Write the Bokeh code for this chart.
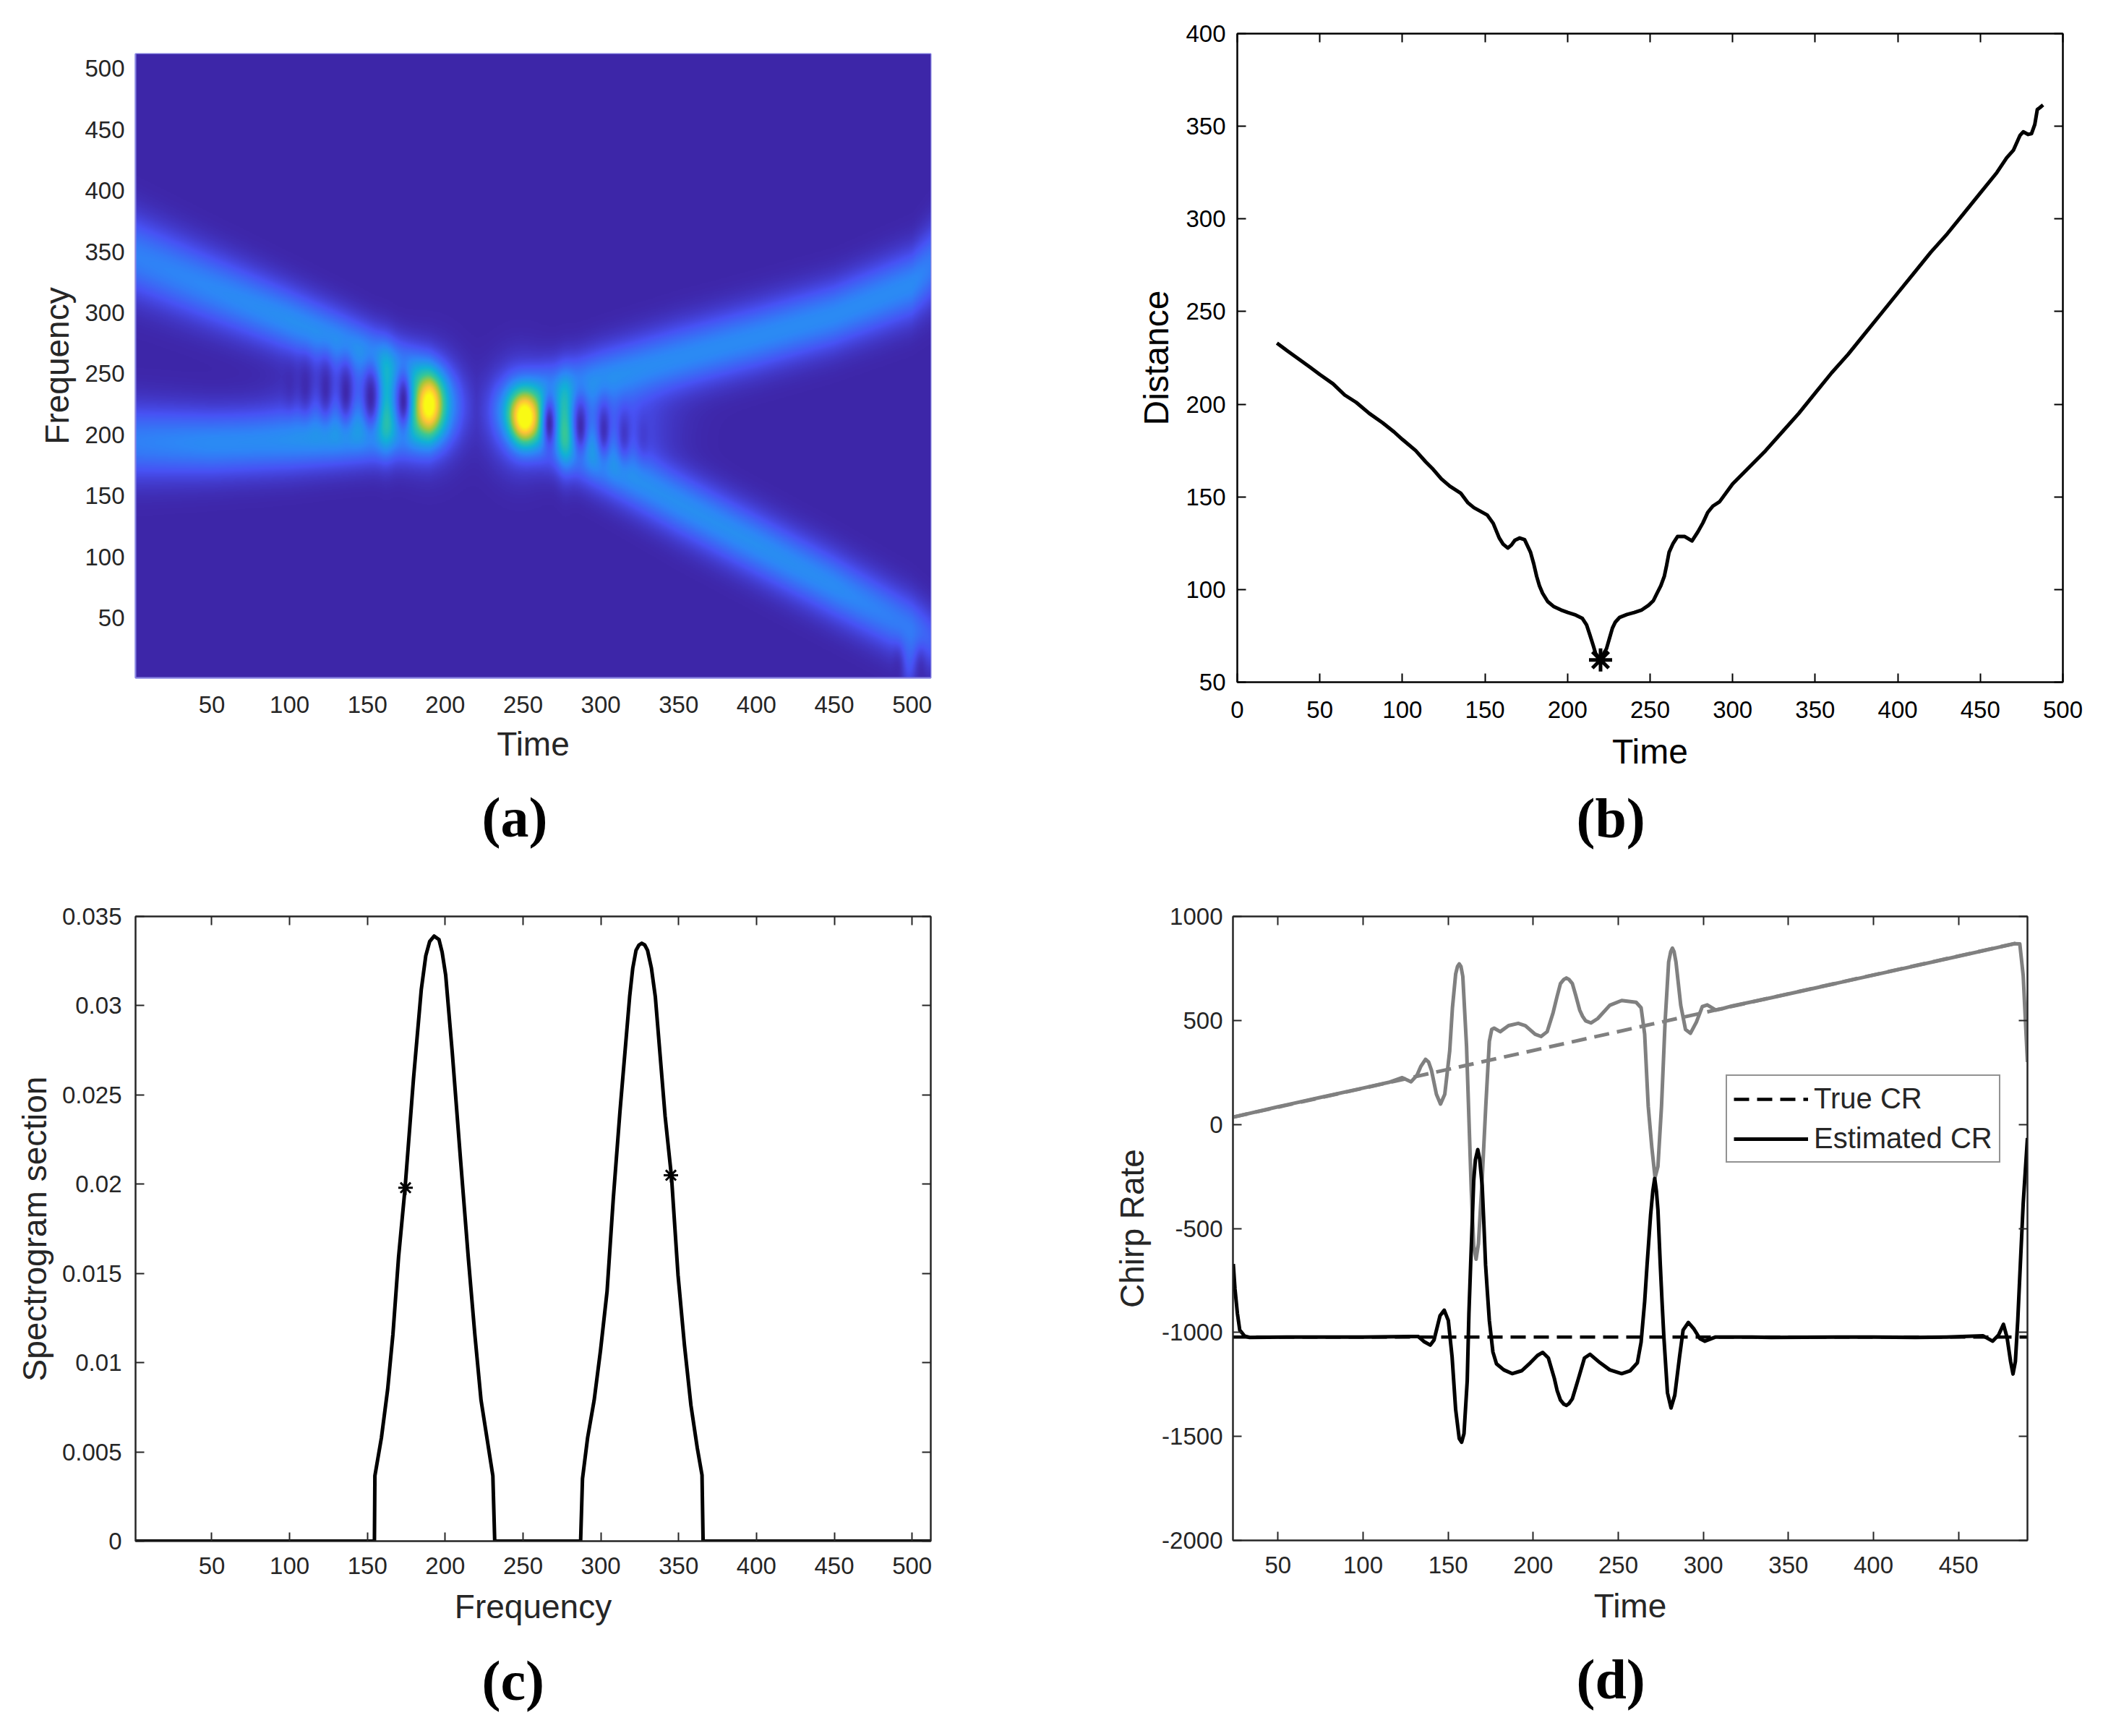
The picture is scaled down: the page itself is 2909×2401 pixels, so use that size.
import numpy as np
from bokeh.plotting import figure
from bokeh.layouts import column, row
from bokeh.models import LinearAxis, FixedTicker, Title, LinearColorMapper, Legend, LegendItem
from bokeh.embed import file_html
from bokeh.resources import INLINE

# ---------------- tick labels ----------------
ticks_512 = [50, 100, 150, 200, 250, 300, 350, 400, 450, 500]
b_x_ticks = [0, 50, 100, 150, 200, 250, 300, 350, 400, 450, 500]
b_y_ticks = [50, 100, 150, 200, 250, 300, 350, 400]
c_y_ticks = [0, 0.005, 0.01, 0.015, 0.02, 0.025, 0.03, 0.035]
c_y_labels = ["0", "0.005", "0.01", "0.015", "0.02", "0.025", "0.03", "0.035"]
d_x_ticks = [50, 100, 150, 200, 250, 300, 350, 400, 450]
d_y_ticks = [-2000, -1500, -1000, -500, 0, 500, 1000]

# ---------------- panel (a): ridges (time, frequency, level, width) ----------------
ul_t = [1, 50, 100, 130, 160, 190, 198, 205, 212, 220]
ul_f = [346, 320, 294, 278, 261, 245, 241, 237, 233, 229]
ul_a = [0.27, 0.29, 0.31, 0.31, 0.31, 0.25, 0.16, 0.08, 0.03, 0.0]
ul_w = [23, 21, 19, 18, 17, 16, 15, 15, 15, 15]
ll_t = [1, 50, 100, 130, 160, 190, 198, 205, 212, 220]
ll_f = [194, 193, 195, 197, 201, 206, 209, 212, 214, 216]
ll_a = [0.27, 0.30, 0.30, 0.30, 0.30, 0.25, 0.16, 0.08, 0.03, 0.0]
ll_w = [21, 19, 18, 17, 17, 17, 16, 16, 16, 16]
ur_t = [220, 228, 236, 243, 252, 265, 300, 350, 400, 450, 500, 512]
ur_f = [218, 220, 222, 224, 227, 233, 246, 263, 280, 298, 323, 338]
ur_a = [0.0, 0.02, 0.06, 0.12, 0.18, 0.28, 0.30, 0.30, 0.30, 0.30, 0.30, 0.26]
ur_w = [16, 16, 16, 17, 17, 17, 18, 19, 19, 19, 20, 22]
lr_t = [220, 228, 236, 243, 252, 265, 300, 350, 400, 450, 500, 512]
lr_f = [230, 225, 220, 216, 210, 201, 178, 144, 110, 76, 41, 33]
lr_a = [0.0, 0.02, 0.06, 0.12, 0.18, 0.28, 0.30, 0.31, 0.31, 0.30, 0.25, 0.18]
lr_w = [17, 17, 17, 17, 17, 17, 18, 19, 19, 19, 19, 18]
# bright lobes: time, frequency, level, half-width in time, half-width in frequency
bright_t = [140, 305, 162, 191, 189.5, 248, 250.7, 277, 498]
bright_f = [226, 206, 226, 222, 225, 216, 213, 208, 8]
bright_a = [0.15, 0.15, 0.20, 0.28, 0.52, 0.28, 0.52, 0.20, 0.10]
bright_st = [26, 26, 3.5, 13, 6, 13, 6, 3.5, 3.5]
bright_sf = [20, 20, 26, 27, 15, 27, 15, 26, 14]
# dark fringes: time, frequency, depth, half-width in time, half-width in frequency
dark_t = [100, 110, 123, 136, 152, 173, 267, 287, 302, 315, 327, 491, 506]
dark_f = [240, 240, 238, 235, 231, 228, 209, 207, 204, 200, 198, 8, 8]
dark_d = [0.5, 0.8, 0.88, 0.95, 0.98, 0.98, 0.98, 0.95, 0.88, 0.7, 0.4, 0.6, 0.6]
dark_st = [3, 3.2, 3.2, 3.4, 3.6, 3.4, 3.4, 3.4, 3.2, 3.2, 3, 2.5, 2.5]
dark_sf = [13, 15, 17, 18, 18, 18, 18, 18, 17, 15, 13, 12, 12]

# parula colour stops
parula_r = [0.2422, 0.2810, 0.1786, 0.0689, 0.2161, 0.6720, 0.9970, 0.9769]
parula_g = [0.1504, 0.3228, 0.5289, 0.6948, 0.7843, 0.7793, 0.7659, 0.9839]
parula_b = [0.6603, 0.9579, 0.9682, 0.8394, 0.5923, 0.2227, 0.2199, 0.0805]

# ---------------- panel (b) ----------------
b_time = [24, 30, 37, 44, 50, 58, 65, 72, 80, 88, 95, 100, 108, 114, 118.5, 123.6, 128.7, 135.3, 139.7, 143.3,
          151.4, 155, 158.6, 161, 163.8, 166, 168.1, 171, 174, 177.6, 179.5, 181.3, 183, 184.9, 188, 191.5, 196, 200.2, 205, 209, 211.5, 213.4,
          215.5, 217, 219.9,
          223.6, 225.5, 227.2, 229, 231.6, 236, 240.4, 245, 249.1, 252, 254.2, 256.5, 258.6, 260, 261.5, 264, 266.6, 271, 275.4, 279, 282, 284.9, 288, 292.1,
          300, 310, 320, 330, 340, 350, 360, 370, 380, 390, 400, 410, 420, 430, 440, 450, 460, 466, 470,
          474, 476, 479, 481, 483, 484.5, 486, 488]
b_dist = [233, 229, 224.5, 220, 216, 211, 205, 201, 195, 190, 185, 181, 175, 169, 165, 159.7, 155.8, 152, 146.8, 144.2,
          140.2, 135.7, 127.9, 124.5, 122.4, 124, 126.6, 127.8, 126.9, 120.1, 114, 107.1, 102, 98, 93.5, 90.9, 89, 87.6, 86.2, 84.4, 81, 75.9,
          70, 65.5, 62.3,
          68.1, 74, 79.2, 82.5, 85, 86.5, 87.6, 89, 91.5, 94, 98, 102, 107.1, 113, 120.1, 125, 128.6, 128.6, 126.2, 131.2, 136, 141.6, 145, 147.4,
          157, 166, 175, 185, 195, 206, 217, 227, 238, 249, 260, 271, 282, 292, 303, 314, 325, 333, 337,
          345, 347, 345.6, 346, 351, 359, 360, 361.5]
b_star_t = [220]
b_star_d = [62]

# ---------------- panel (c) ----------------
c_freq = [1, 154.5, 154.8, 159, 163, 166.4, 170, 174.2, 179.6, 184.6, 187.5, 190, 192.9, 196, 198, 200.3, 204.5, 209.9,
          214.8, 219, 223, 227.3, 230.6, 231.8, 287, 288.2, 291.5, 295.7, 299.8, 304, 308, 312.3, 318.5, 320.5, 322.6, 324.5, 326.3,
          328.2, 330, 332.5, 335, 341.3, 345.4, 349.6, 353.7, 357.9, 362, 365, 365.7, 512]
c_spec = [0, 0, 0.00366, 0.0058, 0.0085, 0.0116, 0.0159, 0.0198, 0.0259, 0.0309, 0.0328, 0.0336, 0.0339, 0.0337, 0.0330, 0.0317, 0.0274, 0.0213,
          0.0159, 0.0116, 0.0079, 0.0055, 0.00366, 0, 0, 0.0035, 0.0058, 0.0079, 0.0107, 0.014, 0.0192, 0.0241, 0.0305, 0.0321, 0.0331, 0.0334, 0.0335,
          0.0334, 0.0331, 0.0321, 0.0305, 0.0238, 0.0204, 0.0149, 0.011, 0.0076, 0.0052, 0.0037, 0, 0]
c_star_f = [174.5, 345]
c_star_s = [0.0198, 0.0205]

# ---------------- panel (d) ----------------
true_t = [23.5, 486]
true_gray = [35, 875]
true_black_t = [23.5, 490.5]
true_black = [-1022, -1022]
gray_t = [23.5, 50, 75, 100, 115, 123, 128.2, 131.7, 134, 136.7, 138.5, 140.2, 143.1, 145.5, 148, 150.9, 152.5, 154.4, 155.5, 156.5, 157.5, 158.6, 160.8, 162.2,
          163.6, 165, 166.4, 167.8, 170, 172.1, 174.2, 175.6, 177, 180.6, 185.5, 191.2, 195.4, 201.1, 204.6, 208.2, 211.7,
          214, 216, 218, 219.5, 221, 223, 225, 227.3, 229, 230.8, 233.9, 237.9, 245, 252, 260.5, 263.4, 265.5, 267.6, 269.7, 271.6, 273.3, 275.4,
          277.5, 279.6, 280.8, 281.8, 282.8, 283.9, 286.7, 289.5, 292.4, 295.9, 299.4, 302.3, 307.2, 310.8, 317.1, 339.8, 400, 450, 483, 486, 488, 490.5]
gray_cr = [35, 85, 130, 175, 202, 225, 205, 237, 280, 313, 300, 260, 145, 98, 145, 353, 560, 723, 760, 772, 760, 712, 376, 29,
           -318, -584, -648, -573, -260, 87, 399, 457, 463, 446, 475, 486, 475, 434, 423, 446, 538,
           615, 677, 697, 704, 697, 677, 620, 550, 520, 498, 488, 509, 573, 596, 587, 561, 434, 87, -110, -255, -202, 87,
           492, 781, 830, 848, 830, 781, 573, 457, 438, 492, 567, 575, 550, 556, 570, 609, 718, 809, 869, 868, 716, 300]
black_t = [23.7, 24.7, 26.1, 27.5, 30.4, 33.3, 60, 100, 127.5, 132.5, 136, 139.5, 141.7, 145.2, 147.7, 150.1, 152.3, 154.4, 156.5, 157.9, 159.3,
           161.2, 162.2, 163.2, 164, 165, 166, 167.4, 168.5, 170, 171, 172, 173, 174.2, 176.3, 178.4, 182.7, 187.6, 193.3, 198.3, 202.5, 205.6, 208.9,
           212.4, 214, 216, 218, 219.5, 221, 223, 225, 226.6, 230.1, 233.4, 239.3, 245, 252, 257, 261.2, 263.4, 265.5, 266.9, 269, 270.3, 271.4, 272.4, 273.3,
           274.7, 275.7, 276.8, 278.9, 281, 283.2, 286, 288.1, 291.2, 294.5, 298, 300.9, 307.2, 317.1, 328.5, 339.8, 400, 424.7, 443, 464.3, 470,
           473.5, 476.4, 478.5, 480.6, 482, 483.4, 484.8, 486.3, 488, 490.5]
black_cr = [-671, -792, -908, -989, -1018, -1024, -1022, -1022, -1020, -1020, -1045, -1061, -1036, -920, -893, -943, -1117, -1371, -1510, -1528, -1487,
            -1233, -908, -677, -500, -272, -170, -121, -165, -295, -480, -677, -800, -943, -1094, -1151, -1180, -1198, -1184, -1146, -1111, -1096, -1123,
            -1221, -1278, -1325, -1345, -1351, -1342, -1319, -1265, -1221, -1123, -1105, -1146, -1180, -1198, -1184, -1146, -1047, -851, -677, -434, -320, -260, -320, -411,
            -677, -850, -1024, -1290, -1363, -1302, -1117, -989, -952, -984, -1030, -1042, -1022, -1022, -1022, -1024, -1022, -1024, -1022, -1016, -1042,
            -1013, -961, -1024, -1140, -1200, -1140, -943, -677, -380, -65]

TXT = "#262626"
FONT = "Liberation Sans"

def axis_style(ax, tick_color=TXT, tick_size="33px", label_size="46px", tick_len=12, standoff=10, label_standoff=10, line=True):
    ax.major_label_text_font = FONT
    ax.major_label_text_font_size = tick_size
    ax.major_label_text_color = tick_color
    ax.axis_label_text_font = FONT
    ax.axis_label_text_font_size = label_size
    ax.axis_label_text_font_style = "normal"
    ax.axis_label_text_color = tick_color
    ax.major_tick_in = tick_len
    ax.major_tick_out = 0
    ax.minor_tick_line_color = None
    ax.major_tick_line_color = tick_color if tick_len else None
    ax.major_tick_line_width = 2
    ax.axis_line_color = tick_color if line else None
    ax.axis_line_width = 2
    ax.major_label_standoff = standoff
    ax.axis_label_standoff = label_standoff

def make(width, height, bl, br, bt, bb, xr, yr, xt, yt, xlabel, ylabel, color=TXT, ov=None, tick_len=12,
         xs=10, ys=10, xls=10, yls=10, tick_size="33px", label_size="46px"):
    p = figure(width=width, height=height, min_border_left=bl, min_border_right=br, min_border_top=bt,
               min_border_bottom=bb, x_range=xr, y_range=yr, output_backend="svg", toolbar_location=None,
               x_axis_label=xlabel, y_axis_label=ylabel)
    p.grid.visible = False
    p.xaxis.ticker = FixedTicker(ticks=xt)
    p.yaxis.ticker = FixedTicker(ticks=yt)
    axis_style(p.xaxis[0], color, tick_size, label_size, tick_len, xs, xls)
    axis_style(p.yaxis[0], color, tick_size, label_size, tick_len, ys, yls)
    if ov:
        p.yaxis[0].major_label_overrides = ov
    p.outline_line_color = color
    p.outline_line_width = 2
    if tick_len:
        top = LinearAxis(ticker=FixedTicker(ticks=xt), major_label_overrides={v: "" for v in xt})
        right = LinearAxis(ticker=FixedTicker(ticks=yt), major_label_overrides={v: "" for v in yt})
        axis_style(top, color, "1px", label_size, tick_len, 0, 0)
        axis_style(right, color, "1px", label_size, tick_len, 0, 0)
        p.add_layout(top, "above")
        p.add_layout(right, "right")
    return p

def tag(p, text, offset, standoff):
    p.add_layout(Title(text=text, text_font="Liberation Serif", text_font_style="bold", text_font_size="78px",
                       text_color="#000000", align="left", offset=offset, standoff=standoff), "below")

# ---------- (a) ----------
nc, nr = 1100, 863
T = np.linspace(1, 512, nc)
F = np.linspace(1, 512, nr)
Z = np.zeros((nr, nc), dtype=np.float32)
TT, FF = np.meshgrid(T, F)
for rt, rf, ra, rw in [(ul_t, ul_f, ul_a, ul_w), (ll_t, ll_f, ll_a, ll_w), (ur_t, ur_f, ur_a, ur_w), (lr_t, lr_f, lr_a, lr_w)]:
    cf = np.interp(T, rt, rf)
    ca = np.interp(T, rt, ra, left=0, right=ra[-1])
    cw = np.interp(T, rt, rw)
    Z += ca * np.exp(-(FF - cf) ** 2 / (2 * cw ** 2))
for t0, f0, a0, st, sf in zip(bright_t, bright_f, bright_a, bright_st, bright_sf):
    Z += a0 * np.exp(-(TT - t0) ** 2 / (2 * st ** 2) - (FF - f0) ** 2 / (2 * sf ** 2))
for t0, f0, d0, st, sf in zip(dark_t, dark_f, dark_d, dark_st, dark_sf):
    Z *= 1 - d0 * np.exp(-(TT - t0) ** 2 / (2 * st ** 2) - (FF - f0) ** 2 / (2 * sf ** 2))
Z = Z.astype(np.float32)

pos = np.linspace(0, 1, 8)
u = np.linspace(0, 1, 256)
palette = ["#%02x%02x%02x" % (int(255 * r), int(255 * g), int(255 * b)) for r, g, b in
           zip(np.interp(u, pos, parula_r), np.interp(u, pos, parula_g), np.interp(u, pos, parula_b))]

pa = make(1398, 1200, 187, 111, 74, 263, (1, 512), (1, 512), ticks_512, ticks_512, "Time", "Frequency", tick_len=0, xs=25, ys=15, xls=14, yls=9)
pa.image(image=[Z], x=1, y=1, dw=511, dh=511, color_mapper=LinearColorMapper(palette=palette, low=0, high=1))
pa.outline_line_color = "#8a87e4"
pa.xaxis[0].axis_line_color = "#8a87e4"
pa.yaxis[0].axis_line_color = "#8a87e4"
pa.xaxis[0].major_tick_line_color = None
pa.yaxis[0].major_tick_line_color = None
tag(pa, "(a)", 479, 54)

# ---------- (b) ----------
pb = make(1495, 1200, 313, 40, 46, 257, (0, 500), (50, 400), b_x_ticks, b_y_ticks, "Time", "Distance", color="#000000", xs=26, ys=16, xls=17, yls=11, label_size="48px")
pb.line(b_time, b_dist, line_color="#000000", line_width=5, line_join="round")
pb.scatter(b_star_t, b_star_d, marker="asterisk", size=32, line_color="#000000", line_width=5)
tag(pb, "(b)", 469, 34)

# ---------- (c) ----------
pc = make(1398, 1198, 187, 111, 67, 267, (1, 512), (0, 0.035), ticks_512, c_y_ticks, "Frequency", "Spectrogram section",
          ov=dict(zip(c_y_ticks, c_y_labels)), xs=22, ys=19, xls=16, yls=9)
pc.line(c_freq, c_spec, line_color="#000000", line_width=5, line_join="round")
pc.scatter(c_star_f, c_star_s, marker="asterisk", size=20, line_color="#000000", line_width=3)
tag(pc, "(c)", 479, 57)

# ---------- (d) ----------
pd = make(1495, 1198, 307, 89, 67, 268, (23.5, 490.5), (-2000, 1000), d_x_ticks, d_y_ticks, "Time", "Chirp Rate",
          ov={v: str(v) for v in d_y_ticks}, xs=22, ys=14, xls=16, yls=12)
pd.line(true_t, true_gray, line_color="#808080", line_width=5, line_dash="21 11")
r_true = pd.line(true_black_t, true_black, line_color="#000000", line_width=4.5, line_dash="21 11")
pd.line(gray_t, gray_cr, line_color="#808080", line_width=5, line_join="round")
r_est = pd.line(black_t, black_cr, line_color="#000000", line_width=5, line_join="round")
leg = Legend(items=[LegendItem(label="True CR", renderers=[r_true]), LegendItem(label="Estimated CR", renderers=[r_est])],
             location=(682, 522), glyph_width=103, glyph_height=40, label_standoff=8, label_text_font=FONT,
             label_text_font_size="40px", label_text_color=TXT, padding=9, spacing=10, margin=0,
             border_line_color=TXT, border_line_width=2, background_fill_alpha=1)
pd.add_layout(leg, "center")
tag(pd, "(d)", 475, 54)

layout = column(row(column(pa), column(pb), spacing=0), row(column(pc), column(pd), spacing=0), spacing=0)
html = file_html(layout, INLINE)
open("out.html", "w").write(html)
